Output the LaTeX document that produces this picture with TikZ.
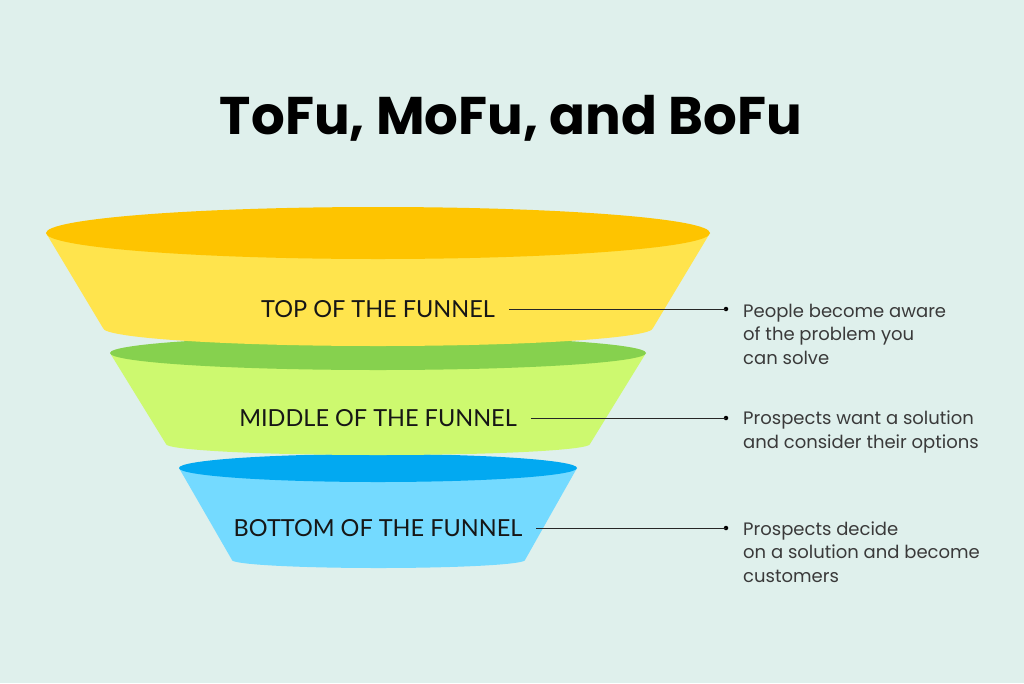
\documentclass[tikz,border=0pt]{standalone}
\usepackage{fontspec}
\setmainfont{Lato}
\newfontfamily\titlefont{Poppins}
\newfontfamily\descfont{Poppins}
\definecolor{bgc}{HTML}{DFF0EC}
\definecolor{ytop}{HTML}{FEC400}
\definecolor{yband}{HTML}{FFE44D}
\definecolor{gtop}{HTML}{86D14E}
\definecolor{gband}{HTML}{CDF96F}
\definecolor{btop}{HTML}{02A9F1}
\definecolor{bband}{HTML}{74DAFF}
\definecolor{labc}{HTML}{161616}
\definecolor{descc}{HTML}{3A3A3A}
\tikzset{
  lab/.style={font=\fontsize{23.5}{26}\selectfont, text=labc, inner sep=0pt},
  desc/.style={font=\descfont\fontsize{18}{23.5}\selectfont, text=descc, align=left, anchor=base west, inner sep=0pt},
  conn/.style={draw=black!85, line width=1pt},
  dotc/.style={circle, fill=black, inner sep=0pt, minimum size=4.5pt}
}
\begin{document}
\begin{tikzpicture}[x=1pt,y=1pt]
\fill[bgc] (0,0) rectangle (1024,-683);
\useasboundingbox (0,0) rectangle (1024,-683);
% title
\node[font=\titlefont\bfseries\fontsize{53}{58}\selectfont, text=black] (title) at (511,-118) {ToFu, MoFu, and BoFu};
% blue
\fill[bband] (179,-468) -- (232,-560) arc[start angle=180,end angle=360,x radius=146.5,y radius=8] -- (577,-468) -- cycle;
\fill[btop] (378,-468) ellipse[x radius=199,y radius=14];
% green
\fill[gband] (110,-353) -- (166,-444) arc[start angle=180,end angle=360,x radius=212,y radius=11] -- (646,-353) -- cycle;
\fill[gtop] (378,-353) ellipse[x radius=268,y radius=17];
% yellow
\fill[yband] (46,-233) -- (103,-328) arc[start angle=180,end angle=360,x radius=275,y radius=18] -- (710,-233) -- cycle;
\fill[ytop] (378,-233) ellipse[x radius=332,y radius=26];
% labels
\node[lab] (tofu) at (378,-309) {TOP OF THE FUNNEL};
\node[lab] (mofu) at (378,-418) {MIDDLE OF THE FUNNEL};
\node[lab] (bofu) at (378,-528) {BOTTOM OF THE FUNNEL};
% dots
\node[dotc] (d1) at (726,-309) {};
\node[dotc] (d2) at (726,-418) {};
\node[dotc] (d3) at (726,-528) {};
\draw[conn] ([xshift=14pt]tofu.east) -- (d1.center);
\draw[conn] ([xshift=14pt]mofu.east) -- (d2.center);
\draw[conn] ([xshift=14pt]bofu.east) -- (d3.center);
% descriptions
\node[desc] (t1) at (743,-364) {People become aware\\of the problem you\\can solve};
\node[desc] (t2) at (743,-448) {Prospects want a solution\\and consider their options};
\node[desc] (t3) at (743,-582) {Prospects decide\\on a solution and become\\customers};
\end{tikzpicture}
\end{document}
